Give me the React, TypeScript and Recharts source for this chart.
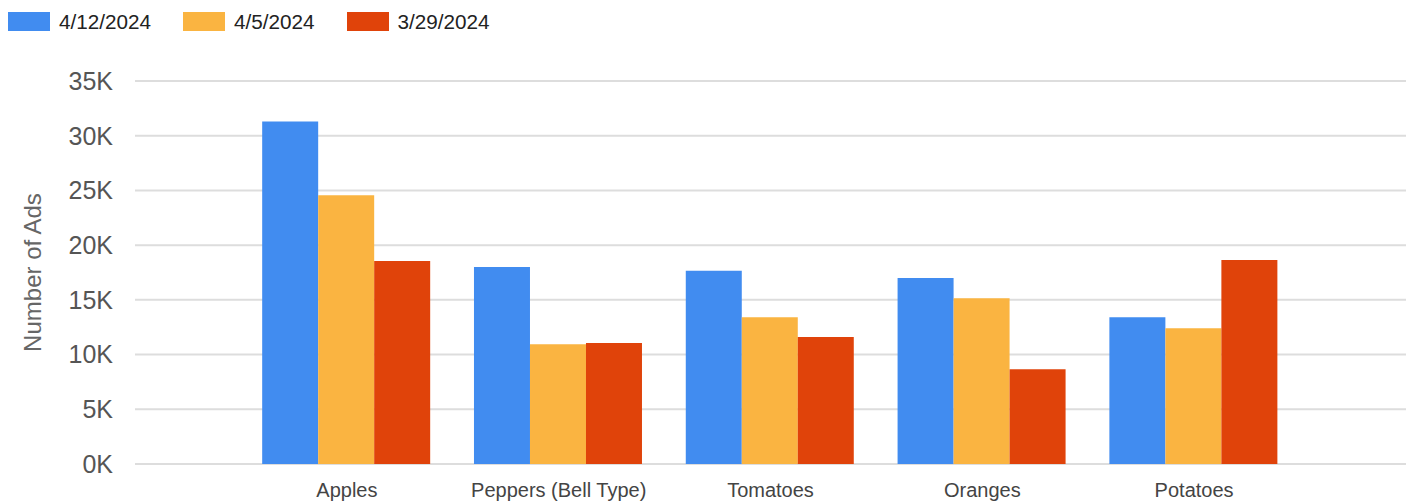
import { BarChart, Bar, XAxis, YAxis, CartesianGrid, Legend, Label } from 'recharts'

const categories = ['Apples', 'Peppers (Bell Type)', 'Tomatoes', 'Oranges', 'Potatoes']
const week0412 = [31300, 18000, 17650, 17000, 13400]
const week0405 = [24550, 10950, 13400, 15150, 12400]
const week0329 = [18550, 11050, 11600, 8650, 18650]
const yTicks = [0, 5000, 10000, 15000, 20000, 25000, 30000, 35000]

const SERIES = [
  { key: 'w0412', name: '4/12/2024', color: '#418CF0' },
  { key: 'w0405', name: '4/5/2024', color: '#FAB441' },
  { key: 'w0329', name: '3/29/2024', color: '#E0430A' },
]

const data = categories.map((name, i) => ({
  name,
  w0412: week0412[i],
  w0405: week0405[i],
  w0329: week0329[i],
}))

function LegendRow() {
  return (
    <div style={{ height: 81, display: 'flex', alignItems: 'flex-start', paddingTop: 12, paddingLeft: 8, boxSizing: 'border-box' }}>
      {SERIES.map((s) => (
        <div key={s.key} style={{ display: 'flex', alignItems: 'center', marginRight: 32 }}>
          <div style={{ width: 42, height: 19, background: s.color, marginRight: 9 }} />
          <span style={{ fontSize: 20.7, color: '#222', lineHeight: '19px' }}>{s.name}</span>
        </div>
      ))}
    </div>
  )
}

export default function App() {
  return (
    <div style={{ position: 'absolute', left: 0, top: 0, width: 1413, height: 502, background: '#fff', fontFamily: '"Liberation Sans", Arial, sans-serif' }}>
      <BarChart
        width={1413}
        height={502}
        data={data}
        margin={{ top: 0, right: 7, bottom: 0, left: 0 }}
        barCategoryGap="10%"
        barGap={0}
      >
        <Legend verticalAlign="top" align="left" content={() => <LegendRow />} />
        <CartesianGrid vertical={false} stroke="#dddddd" strokeWidth={2} />
        <XAxis
          dataKey="name"
          axisLine={false}
          tickLine={false}
          height={38}
          tickMargin={13}
          padding={{ left: 106, right: 106 }}
          tick={{ fontSize: 20, fill: '#444' }}
          interval={0}
        />
        <YAxis
          width={135}
          domain={[0, 35000]}
          ticks={yTicks}
          axisLine={false}
          tickLine={false}
          tickMargin={16}
          tickFormatter={(v: number) => `${v / 1000}K`}
          tick={{ fontSize: 25, fill: '#555' }}
        >
          <Label
            content={({ viewBox }: any) => {
              const cx = 32
              const cy = viewBox.y + viewBox.height / 2
              return (
                <text x={cx} y={cy} transform={`rotate(-90 ${cx} ${cy})`} textAnchor="middle" dominantBaseline="central" fontSize={24} fill="#666">
                  Number of Ads
                </text>
              )
            }}
          />
        </YAxis>
        {SERIES.map((s) => (
          <Bar key={s.key} dataKey={s.key} name={s.name} fill={s.color} isAnimationActive={false} />
        ))}
      </BarChart>
    </div>
  )
}
